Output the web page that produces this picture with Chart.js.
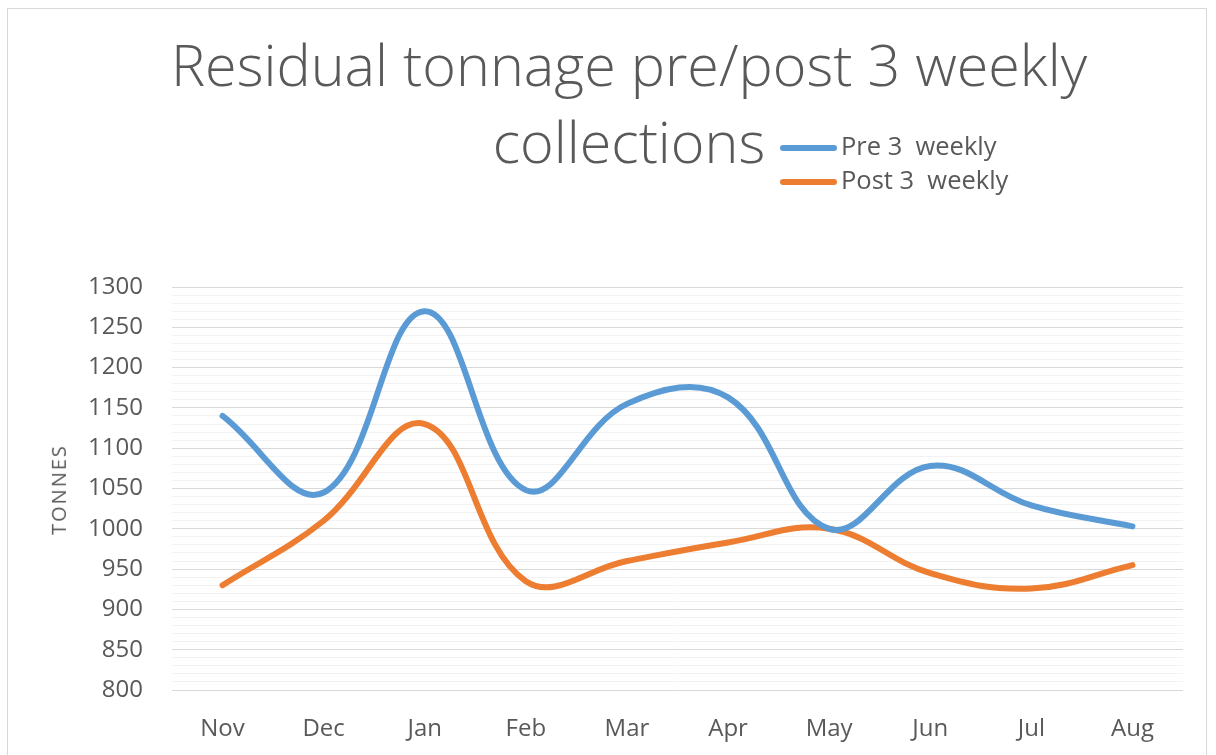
<!DOCTYPE html>
<html>
<head>
<meta charset="utf-8">
<script src="https://cdn.jsdelivr.net/npm/chart.js@4/dist/chart.umd.min.js"></script>
<style>
  html, body { margin: 0; padding: 0; background: #ffffff; }
  body { width: 1216px; height: 755px; position: relative; overflow: hidden; font-family: 'Open Sans', sans-serif; }
  #frame { position: absolute; left: 7px; top: 8px; width: 1200px; height: 800px; border: 1px solid #d9d9d9; box-sizing: border-box; }
  #c { position: absolute; left: 0; top: 0; }
  .title { position: absolute; left: 0; width: 1258px; text-align: center; font-family: 'Open Sans', sans-serif; font-weight: 300; font-size: 57.5px; color: #595959; line-height: 1; white-space: pre; }
  .leg { position: absolute; font-family: 'Open Sans', sans-serif; font-size: 25.5px; color: #595959; white-space: pre; line-height: 1; }
  .legline { position: absolute; height: 6px; border-radius: 3px; }
  #ytitle { position: absolute; font-family: 'Open Sans', sans-serif; font-size: 20px; letter-spacing: 2px; color: #595959; transform: rotate(-90deg); transform-origin: center center; white-space: pre; }
</style>
</head>
<body>
<div id="frame"></div>
<canvas id="c" width="1216" height="755"></canvas>
<div class="title" id="t1" style="top:36px;">Residual tonnage pre/post 3 weekly</div>
<div class="title" id="t2" style="top:113px;">collections</div>
<div class="legline" style="left:780px; top:145px; width:57px; background:#5B9BD5;"></div>
<div class="leg" style="left:841px; top:133px;">Pre 3  weekly</div>
<div class="legline" style="left:780px; top:179px; width:57px; background:#ED7D31;"></div>
<div class="leg" style="left:841px; top:167px;">Post 3  weekly</div>
<div id="ytitle">TONNES</div>
<script>
const categories = ['Nov', 'Dec', 'Jan', 'Feb', 'Mar', 'Apr', 'May', 'Jun', 'Jul', 'Aug'];
const preValues  = [1140, 1045, 1270, 1048, 1155, 1163, 1000, 1078, 1029, 1003];
const postValues = [930, 1010, 1130, 935, 960, 983, 1000, 945, 926, 955];
const seriesNames = ['Pre 3  weekly', 'Post 3  weekly'];
const yMin = 800, yMax = 1300, yMajor = 50, yMinor = 10;

// position rotated axis title
(function () {
  const el = document.getElementById('ytitle');
  const w = el.offsetWidth, h = el.offsetHeight;
  el.style.left = (58 - w / 2) + 'px';
  el.style.top = (489 - h / 2) + 'px';
})();

const ctx = document.getElementById('c').getContext('2d');
new Chart(ctx, {
  type: 'line',
  data: {
    labels: categories,
    datasets: [
      { label: seriesNames[0], data: preValues, borderColor: '#5B9BD5', backgroundColor: '#5B9BD5',
        borderWidth: 6, tension: 0.4, pointRadius: 0, borderCapStyle: 'round', borderJoinStyle: 'round', fill: false },
      { label: seriesNames[1], data: postValues, borderColor: '#ED7D31', backgroundColor: '#ED7D31',
        borderWidth: 6, tension: 0.4, pointRadius: 0, borderCapStyle: 'round', borderJoinStyle: 'round', fill: false }
    ]
  },
  options: {
    responsive: false,
    animation: false,
    layout: { padding: { top: 287, right: 33, left: 0, bottom: 0 } },
    plugins: { legend: { display: false }, title: { display: false }, tooltip: { enabled: false } },
    scales: {
      x: {
        type: 'category',
        offset: true,
        grid: { display: false },
        border: { display: false },
        ticks: { font: { family: 'Open Sans', size: 24 }, color: '#595959', padding: 17, maxRotation: 0, autoSkip: false },
        afterFit: (s) => { s.height = 65; }
      },
      y: {
        min: yMin, max: yMax,
        border: { display: false },
        grid: {
          drawTicks: false,
          lineWidth: 1,
          color: (c) => (c.tick && Math.round(c.tick.value) % yMajor === 0) ? '#D9D9D9' : '#F2F2F2'
        },
        ticks: {
          stepSize: yMinor,
          autoSkip: false,
          padding: 29,
          font: { family: 'Open Sans', size: 24 },
          color: '#595959',
          callback: (v) => (Math.round(v) % yMajor === 0 ? String(v) : '')
        },
        afterFit: (s) => { s.width = 172; }
      }
    }
  }
});
</script>
</body>
</html>
